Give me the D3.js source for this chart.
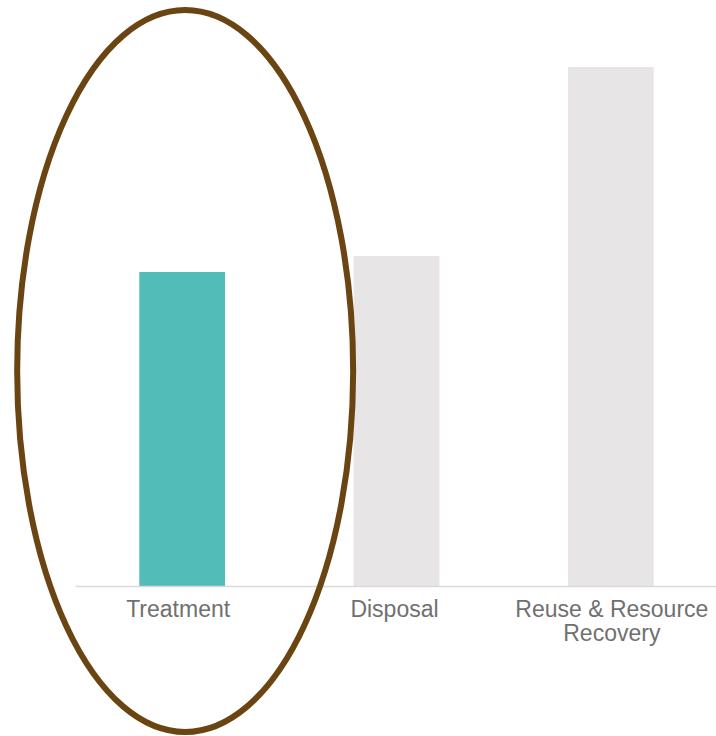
<!DOCTYPE html>
<html>
<head>
<meta charset="utf-8">
<script src="https://cdn.jsdelivr.net/npm/d3@7"></script>
<style>
  html, body { margin: 0; padding: 0; background: #ffffff; }
  svg { display: block; }
</style>
</head>
<body>
<svg id="chart" width="716" height="736"></svg>
<script>
// Data
const categories = ["Treatment", "Disposal", "Reuse & Resource Recovery"];
const labelLines = [["Treatment"], ["Disposal"], ["Reuse & Resource", "Recovery"]];
const values = [31.4, 33.0, 51.9];
const highlighted = ["Treatment"];

const svg = d3.select("#chart");
const baseline = 586;

const x = d3.scaleBand()
  .domain(categories)
  .range([75, 718])
  .paddingInner(0.6)
  .paddingOuter(0.3);

const y = d3.scaleLinear()
  .domain([0, 58.6])
  .range([baseline, 0]);

// Bars
svg.append("g")
  .selectAll("rect")
  .data(categories)
  .join("rect")
  .attr("x", d => x(d))
  .attr("width", x.bandwidth())
  .attr("y", (d, i) => y(values[i]))
  .attr("height", (d, i) => y(0) - y(values[i]))
  .attr("fill", d => highlighted.includes(d) ? "#52bcb8" : "#e7e5e6");

// Axis
const axis = svg.append("g")
  .attr("transform", `translate(0,${baseline})`)
  .call(d3.axisBottom(x).tickSize(0).tickFormat(""));
axis.select(".domain").attr("stroke", "#d9d9d9").attr("stroke-width", 1.5);

// Labels
const lab = svg.append("g");
const shift = [-4, -2, 1];
categories.forEach((c, i) => {
  const cx = x(c) + x.bandwidth() / 2 + shift[i];
  const t = lab.append("text")
    .attr("x", cx)
    .attr("y", 617)
    .attr("text-anchor", "middle")
    .attr("fill", "#707070")
    .style("font-family", "'Liberation Sans', Arial, Helvetica, sans-serif")
    .style("font-size", "23px")
    .style("letter-spacing", "0px");
  labelLines[i].forEach((ln, j) => {
    t.append("tspan")
      .attr("x", cx)
      .attr("dy", j === 0 ? 0 : 24)
      .text(ln);
  });
});

// Highlight ellipse around the first category
const hx = x(highlighted[0]) + x.bandwidth() / 2;
svg.append("ellipse")
  .attr("cx", hx + 3)
  .attr("cy", 371)
  .attr("rx", 168)
  .attr("ry", 361)
  .attr("fill", "none")
  .attr("stroke", "#6a4512")
  .attr("stroke-width", 6);
</script>
</body>
</html>
